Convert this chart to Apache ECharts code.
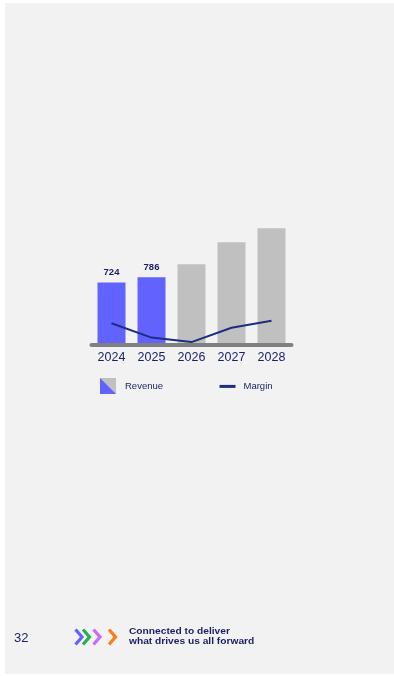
<!DOCTYPE html>
<html>
<head>
<meta charset="utf-8">
<script src="https://cdn.jsdelivr.net/npm/echarts@6/dist/echarts.min.js"></script>
<style>
html,body{margin:0;padding:0;background:#ffffff;}
#main{width:394px;height:676px;}
</style>
</head>
<body>
<div id="main"></div>
<script>
var years = ['2024', '2025', '2026', '2027', '2028'];
var revenue = [724, 786, 936, 1193, 1356];
var revenueLabels = ['724', '786', '', '', ''];
var actualCount = 2;
var margin = [7.1, 2.3, 0.8, 5.6, 7.9];
var footerLines = ['Connected to deliver', 'what drives us all forward'];
var pageNumber = '32';

var navy = '#1c1f66';
var blue = '#6262ff';
var gray = '#c0c0c0';

var chart = echarts.init(document.getElementById('main'), null, {renderer: 'canvas'});

var barData = revenue.map(function (v, i) {
  return {
    value: v,
    itemStyle: {color: i < actualCount ? blue : gray},
    label: {show: revenueLabels[i] !== '', formatter: revenueLabels[i]}
  };
});

function chevron(x, color) {
  return {
    type: 'polyline',
    shape: {points: [[x, 629.5], [x + 6.5, 637], [x, 644.5]]},
    style: {stroke: color, lineWidth: 3.2, fill: null, lineJoin: 'miter'},
    z: 10
  };
}

var option = {
  backgroundColor: '#ffffff',
  animation: false,
  textStyle: {fontFamily: 'Liberation Sans, Arial, sans-serif'},
  grid: {left: 91.5, right: 102.5, top: 224.5, bottom: 331.5, containLabel: false},
  legend: [
    {
      data: ['Revenue'], left: 100, top: 378, itemWidth: 16, itemHeight: 16, itemGap: 0,
      icon: 'rect', textStyle: {color: navy, fontSize: 9.5, padding: [0, 0, 0, 4]},
      padding: 0
    },
    {
      data: ['Margin'], left: 218, top: 380, itemWidth: 16, itemHeight: 16, itemGap: 0,
      textStyle: {color: navy, fontSize: 9.5, padding: [0, 0, 0, 3]},
      padding: 0,
      itemStyle: {opacity: 0},
      lineStyle: {width: 3}
    }
  ],
  xAxis: {
    type: 'category',
    data: years,
    z: 5,
    axisLine: {show: true, lineStyle: {color: '#808080', width: 4}},
    axisTick: {show: false},
    axisLabel: {color: navy, fontSize: 12.5, margin: 7}
  },
  yAxis: [
    {type: 'value', min: 0, max: 1400, show: false, splitLine: {show: false}},
    {type: 'value', min: 0, max: 40, show: false, splitLine: {show: false}}
  ],
  series: [
    {
      name: 'Revenue',
      type: 'bar',
      barWidth: 28,
      data: barData,
      itemStyle: {color: gray},
      label: {show: true, position: 'top', distance: 5, color: navy, fontSize: 9.5, fontWeight: 'bold'}
    },
    {
      name: 'Margin',
      type: 'line',
      yAxisIndex: 1,
      data: margin,
      showSymbol: false,
      symbol: 'none',
      z: 4,
      lineStyle: {color: '#1f2d80', width: 2},
      itemStyle: {color: '#1f2d80'}
    }
  ],
  graphic: [
    {type: 'rect', shape: {x: 5, y: 3, width: 389, height: 671}, style: {fill: '#f2f2f2'}, z: -10, silent: true},
    {type: 'polygon', shape: {points: [[100, 378], [116, 394], [100, 394]]}, style: {fill: blue}, z: 100},
    chevron(75.5, '#6262ff'),
    chevron(83, '#22b14c'),
    chevron(93.5, '#c869ff'),
    chevron(109, '#ff7a1a'),
    {type: 'text', x: 14, y: 638, style: {text: pageNumber, fill: navy, fontSize: 13, fontFamily: 'Liberation Sans', verticalAlign: 'middle'}, z: 10},
    {type: 'text', x: 129, y: 631.5, scaleX: 1.2, style: {text: footerLines[0], fill: navy, fontSize: 8.5, fontWeight: 'bold', fontFamily: 'Liberation Sans', verticalAlign: 'middle'}, z: 10},
    {type: 'text', x: 129, y: 641.5, scaleX: 1.2, style: {text: footerLines[1], fill: navy, fontSize: 8.5, fontWeight: 'bold', fontFamily: 'Liberation Sans', verticalAlign: 'middle'}, z: 10}
  ]
};
chart.setOption(option);
</script>
</body>
</html>
